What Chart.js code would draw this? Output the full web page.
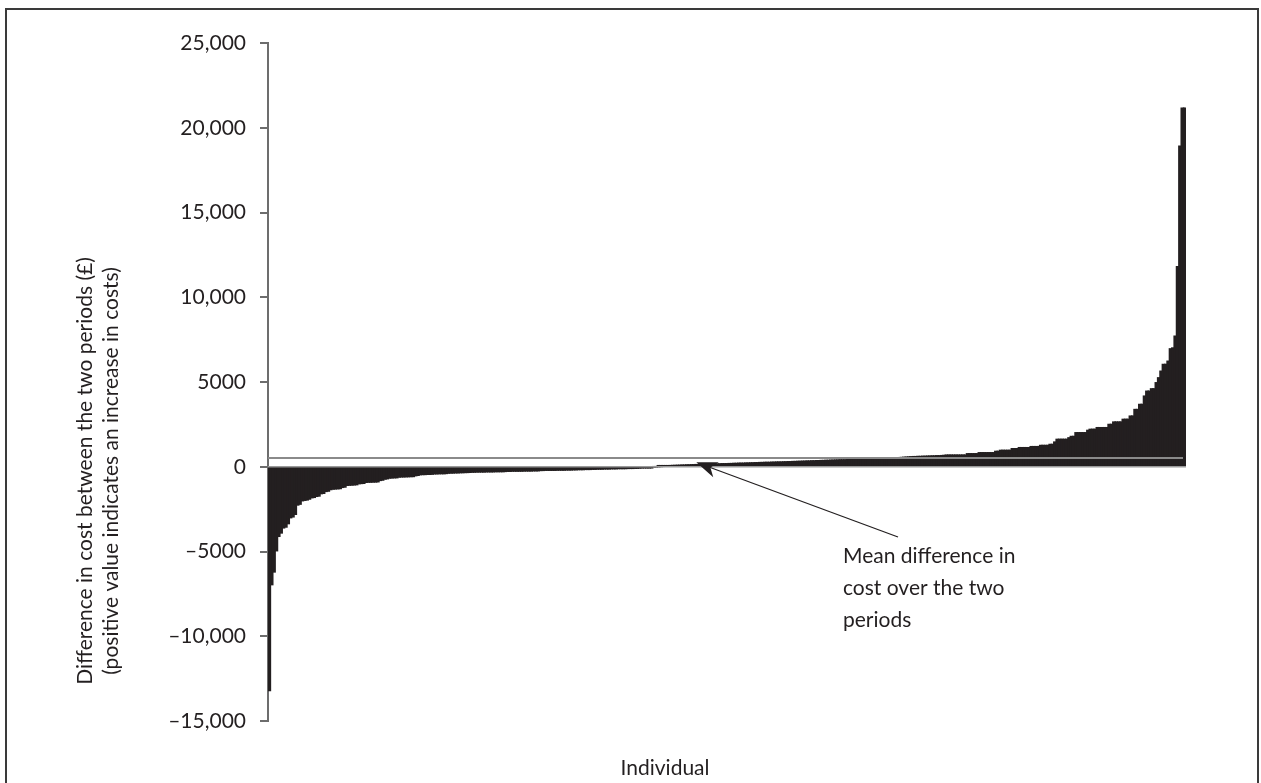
<!DOCTYPE html>
<html>
<head>
<meta charset="utf-8">
<script src="https://cdn.jsdelivr.net/npm/chart.js@4.4.1/dist/chart.umd.min.js"></script>
<style>
  body { margin: 0; background: #fff; }
  #wrap { position: relative; width: 1261px; height: 783px; overflow: hidden; }
  #frame { position: absolute; left: 5px; top: 8px; width: 1250px; height: 800px; border: 2px solid #3a3a3a; pointer-events: none; }
</style>
</head>
<body>
<div id="wrap">
  <canvas id="myChart" width="1261" height="783"></canvas>
  <div id="frame"></div>
</div>
<script>
// difference in cost per individual (£), sorted low to high
var diffValues = [
  -13200, -6950, -6200, -4950, -4100, -3900, -3600, -3550, -3350, -3000,
  -2950, -2800, -2250, -2200, -2000, -1970, -1950, -1900, -1820, -1800,
  -1740, -1720, -1580, -1560, -1450, -1430, -1340, -1310, -1300, -1290,
  -1280, -1210, -1190, -1090, -1080, -1070, -1060, -1050, -990, -980,
  -970, -910, -900, -900, -890, -890, -880, -800, -780, -720,
  -700, -660, -650, -640, -640, -600, -590, -590, -580, -580,
  -570, -570, -520, -500, -460, -450, -450, -440, -440, -430,
  -410, -410, -400, -400, -400, -390, -370, -360, -360, -350,
  -350, -340, -340, -330, -330, -320, -310,
  -310, -300, -300, -300, -300, -290, -290, -290, -290, -280, -280, -280, -280, -270,
  -260, -260, -250, -250, -250, -250, -250, -240, -240, -240, -240, -230, -230, -230,
  -210, -210, -200, -200, -200, -200, -200, -190, -190, -190, -190, -180, -180, -180,
  -170, -170, -160, -160, -160, -150, -150, -150,
  -140, -140, -130, -130, -130, -120, -120, -120, -110, -110, -110, -100, -100, -100, -100, -90, -90, -90, -80, -80, -70,
  -50, -40, -30, -20, -10, 0, 0, 10, 20,
  30, 40, 50, 60, 70, 70, 80, 80, 90, 90, 100, 100, 110, 110, 120, 120,
  130, 130, 140, 140, 150, 150, 150, 160, 160, 170, 170, 170, 180, 180, 190, 190, 200, 200, 200, 210, 210,
  220, 220, 230, 230, 240, 240, 250, 250, 250, 260, 260, 270, 270, 270, 280, 280, 290, 290,
  300, 300, 310, 310, 320, 320, 330, 330, 340, 340, 350, 350, 360, 360, 370, 370,
  380, 380, 390, 390, 400, 400, 400, 410, 410, 420, 420, 430, 430, 440, 440, 450,
  450, 460, 460, 470, 470, 480, 480, 490, 490, 500, 500, 510, 520, 530, 540, 550, 560, 570, 580,
  590, 590, 600, 600, 610, 610, 620, 620, 630, 630, 640, 640, 650, 660,
  680, 680, 680, 680, 680, 680, 680, 680, 680,
  760, 760, 760, 760, 760,
  820, 820, 820, 820, 820, 820, 820,
  900, 900,
  960, 960, 960, 960, 960,
  1060, 1060, 1060,
  1120, 1120, 1120, 1120, 1120,
  1180, 1180, 1180, 1180,
  1250, 1250, 1250, 1250,
  1310, 1310, 1450,
  1610, 1610, 1610, 1610, 1610, 1700, 1780, 1780,
  2000, 2000, 2000, 2000, 2000, 2140, 2200, 2200, 2200,
  2300, 2300, 2300, 2300, 2300, 2490, 2490,
  2630, 2630, 2630, 2630, 2790, 2790, 2790, 2980, 2980,
  3370, 3370, 3670, 3670, 4160, 4450, 4450, 4590, 4590,
  4950, 5240, 5630, 6030, 6030, 6220, 6950, 7000, 7700,
  11800, 18900, 21150, 21150
];
var individuals = diffValues.map(function (v, i) { return i + 1; });

var meanDiff = 520;

var tickValues = [-15000, -10000, -5000, 0, 5000, 10000, 15000, 20000, 25000];
var tickLabels = ['\u201315,000', '\u201310,000', '\u20135000', '0', '5000', '10,000', '15,000', '20,000', '25,000'];

var yTitle = ['Difference in cost between the two periods (\u00a3)', '(positive value indicates an increase in costs)'];
var xTitle = 'Individual';
var noteLines = ['Mean difference in', 'cost over the two', 'periods'];

var ink = '#231f20';
var axisGrey = '#6d6d6d';
var fontName = 'Lato, "Open Sans", sans-serif';

// lines, arrow and titles drawn on top of the bars
var overlay = {
  id: 'overlay',
  afterDatasetsDraw: function (chart) {
    var c = chart.ctx;
    var a = chart.chartArea;
    var ys = chart.scales.y;
    var xs = chart.scales.x;
    c.save();

    // zero line
    var y0 = ys.getPixelForValue(0);
    c.strokeStyle = '#9a9a9a';
    c.lineWidth = 1.5;
    c.beginPath();
    c.moveTo(a.left, y0);
    c.lineTo(a.right, y0);
    c.stroke();

    // mean line
    var ym = ys.getPixelForValue(meanDiff);
    c.strokeStyle = '#8a8a8a';
    c.lineWidth = 2;
    c.beginPath();
    c.moveTo(a.left, ym);
    c.lineTo(a.right - 3, ym);
    c.stroke();

    // arrow to the mean line
    var tipX = xs.getPixelForValue(181);
    var tipY = (ym + y0) / 2;
    var fromX = 898, fromY = 537;
    var ang = Math.atan2(tipY - fromY, tipX - fromX);
    var cs = Math.cos(ang), sn = Math.sin(ang);
    c.strokeStyle = ink;
    c.fillStyle = ink;
    c.lineWidth = 1.3;
    c.beginPath();
    c.moveTo(fromX, fromY);
    c.lineTo(tipX - cs * 12, tipY - sn * 12);
    c.stroke();
    c.beginPath();
    c.moveTo(tipX, tipY);
    c.lineTo(tipX - cs * 21 + sn * 8, tipY - sn * 21 - cs * 8);
    c.lineTo(tipX - cs * 15, tipY - sn * 15);
    c.lineTo(tipX - cs * 21 - sn * 8, tipY - sn * 21 + cs * 8);
    c.closePath();
    c.fill();

    // note text
    c.font = '21px ' + fontName;
    c.textAlign = 'left';
    c.textBaseline = 'alphabetic';
    for (var i = 0; i < noteLines.length; i++) {
      c.fillText(noteLines[i], 843, 563 + i * 32);
    }

    // x title
    c.textAlign = 'center';
    c.textBaseline = 'middle';
    c.fillText(xTitle, 665, 768);

    // y title
    c.translate(98, 471);
    c.rotate(-Math.PI / 2);
    c.fillText(yTitle[0], 0, -13);
    c.fillText(yTitle[1], 0, 13);
    c.restore();
  }
};

var ctx = document.getElementById('myChart').getContext('2d');
var myChart = new Chart(ctx, {
  type: 'bar',
  data: {
    labels: individuals,
    datasets: [{
      data: diffValues,
      backgroundColor: ink,
      borderWidth: 0,
      inflateAmount: 0.8,
      barPercentage: 1,
      categoryPercentage: 1
    }]
  },
  options: {
    responsive: false,
    animation: false,
    devicePixelRatio: 1,
    layout: { padding: { left: 0, top: 43, right: 75, bottom: 62 } },
    plugins: { legend: { display: false }, tooltip: { enabled: false } },
    scales: {
      x: { display: false },
      y: {
        min: -15000,
        max: 25000,
        afterBuildTicks: function (s) {
          s.ticks = tickValues.map(function (v) { return { value: v }; });
        },
        afterFit: function (s) { s.width = 268; },
        ticks: {
          color: ink,
          padding: 14,
          font: { family: fontName, size: 21 },
          callback: function (v) { return tickLabels[tickValues.indexOf(v)]; }
        },
        grid: { drawOnChartArea: false, tickLength: 8, color: axisGrey, lineWidth: 2 },
        border: { color: axisGrey, width: 2 }
      }
    }
  },
  plugins: [overlay]
});
</script>
</body>
</html>
